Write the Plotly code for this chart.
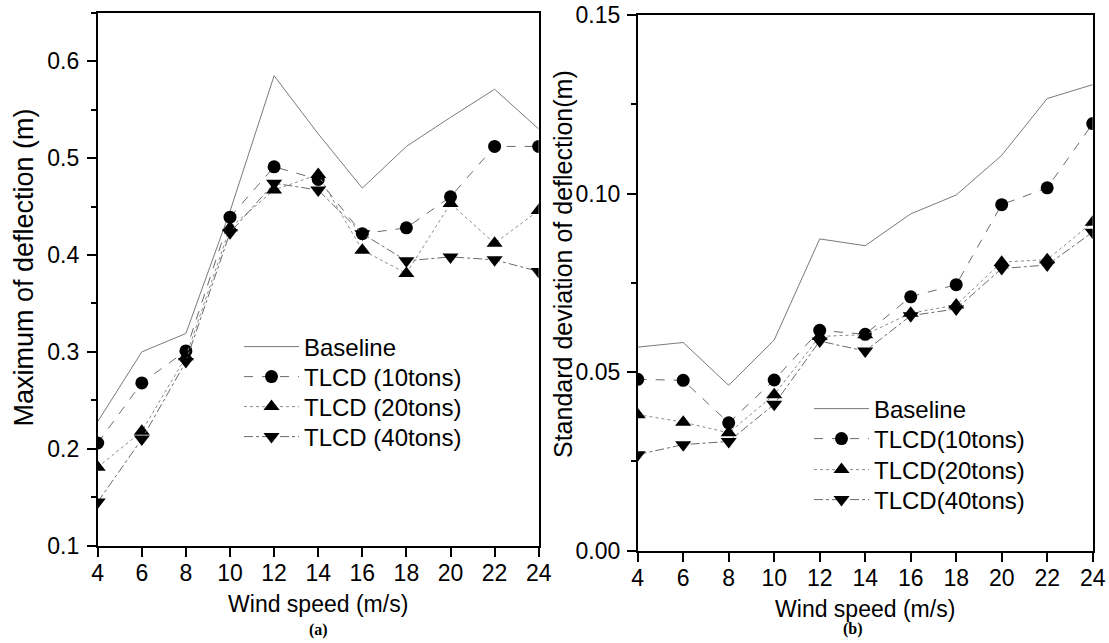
import plotly.graph_objects as go

W, H = 1109, 643

wind = [4, 6, 8, 10, 12, 14, 16, 18, 20, 22, 24]

# (a) Maximum of deflection (m)
a_baseline = [0.228, 0.300, 0.319, 0.445, 0.585, 0.525, 0.469, 0.512, 0.542, 0.571, 0.530]
a_tlcd10 = [0.206, 0.268, 0.301, 0.439, 0.491, 0.478, 0.422, 0.428, 0.460, 0.512, 0.512]
a_tlcd20 = [0.181, 0.218, 0.295, 0.428, 0.467, 0.483, 0.405, 0.381, 0.453, 0.412, 0.446]
a_tlcd40 = [0.145, 0.210, 0.290, 0.423, 0.474, 0.467, 0.422, 0.394, 0.398, 0.395, 0.383]

# (b) Standard deviation of deflection (m)
b_baseline = [0.0570, 0.0583, 0.0463, 0.0590, 0.0873, 0.0854, 0.0943, 0.0996, 0.1107, 0.1266, 0.1305]
b_tlcd10 = [0.0480, 0.0477, 0.0358, 0.0478, 0.0617, 0.0606, 0.0711, 0.0745, 0.0969, 0.1016, 0.1196]
b_tlcd20 = [0.0381, 0.0360, 0.0330, 0.0437, 0.0600, 0.0605, 0.0665, 0.0688, 0.0808, 0.0815, 0.0920]
b_tlcd40 = [0.0269, 0.0297, 0.0306, 0.0410, 0.0587, 0.0559, 0.0658, 0.0677, 0.0790, 0.0800, 0.0892]

names_a = ["Baseline", "TLCD (10tons)", "TLCD (20tons)", "TLCD (40tons)"]
names_b = ["Baseline", "TLCD(10tons)", "TLCD(20tons)", "TLCD(40tons)"]

x_title = "Wind speed (m/s)"
y_title_a = "Maximum of deflection (m)"
y_title_b = "Standard deviation of deflection(m)"

FONT = "Liberation Sans, Arial, sans-serif"
SERIF = "Liberation Serif, Times New Roman, serif"
styles = [
    dict(mode="lines", line=dict(color="#7a7a7a", width=1, dash="solid"), marker=None),
    dict(mode="lines+markers", line=dict(color="#6a6a6a", width=1, dash="dash"),
         marker=dict(symbol="circle", size=13, color="black")),
    dict(mode="lines+markers", line=dict(color="#8a8a8a", width=1, dash="dot"),
         marker=dict(symbol="triangle-up", size=14, color="black")),
    dict(mode="lines+markers", line=dict(color="#6a6a6a", width=1, dash="dashdot"),
         marker=dict(symbol="triangle-down", size=14, color="black")),
]

def px_x(p):
    return p / W

def px_y(p):
    return 1 - p / H

# legend entry positions (pixels): (legend box left x, entry centre y)
legend_pos_a = [(239, 347), (239, 377), (239, 407), (239, 437)]
legend_pos_b = [(809, 409), (809, 439), (809, 470), (809, 500)]

fig = go.Figure()
legend_layout = {}
lid = 1
for panel, (series, names, positions, xa, ya) in enumerate([
        ([a_baseline, a_tlcd10, a_tlcd20, a_tlcd40], names_a, legend_pos_a, "x", "y"),
        ([b_baseline, b_tlcd10, b_tlcd20, b_tlcd40], names_b, legend_pos_b, "x2", "y2")]):
    for i, (ys, nm) in enumerate(zip(series, names)):
        st = styles[i]
        lname = "legend" if lid == 1 else "legend%d" % lid
        kw = dict(x=wind, y=ys, name=nm, mode=st["mode"], line=st["line"],
                  xaxis=xa, yaxis=ya, legend=lname, showlegend=True)
        if st["marker"]:
            kw["marker"] = st["marker"]
        fig.add_trace(go.Scatter(**kw))
        px, py = positions[i]
        legend_layout[lname] = dict(
            x=px_x(px), y=px_y(py), xanchor="left", yanchor="middle",
            bgcolor="rgba(0,0,0,0)", borderwidth=0, itemwidth=55,
            font=dict(family=FONT, size=24, color="black"))
        lid += 1

axis_common = dict(
    showline=True, linecolor="black", linewidth=1.6, mirror=True,
    ticks="outside", ticklen=9, tickwidth=1.6, tickcolor="black",
    showgrid=False, zeroline=False, automargin=False,
    tickfont=dict(family=FONT, size=23, color="black"),
)

fig.update_layout(
    width=W, height=H,
    margin=dict(l=0, r=0, t=0, b=0, autoexpand=False),
    showlegend=True,
    paper_bgcolor="white", plot_bgcolor="white",
    font=dict(family=FONT, size=24, color="black"),
    xaxis=dict(domain=[px_x(97.7), px_x(538.7)], range=[4, 24], tickvals=wind,
               anchor="y", ticklabelstandoff=-3,
               title=dict(text=x_title, font=dict(family=FONT, size=23), standoff=11),
               **axis_common),
    yaxis=dict(domain=[px_y(545.7), px_y(12.7)], range=[0.1, 0.65], dtick=0.1, tick0=0.1,
               tickformat=".1f", anchor="x", ticklabelstandoff=3,
               minor=dict(dtick=0.05, tick0=0.1, ticks="outside", ticklen=5, tickwidth=1.6, tickcolor="black"),
               **axis_common),
    xaxis2=dict(domain=[px_x(637.7), px_x(1092.7)], range=[4, 24], tickvals=wind,
                anchor="y2", ticklabelstandoff=-3,
                title=dict(text=x_title, font=dict(family=FONT, size=23), standoff=11),
                **axis_common),
    yaxis2=dict(domain=[px_y(550.7), px_y(15)], range=[0, 0.15], dtick=0.05, tick0=0,
                tickformat=".2f", anchor="x2", ticklabelstandoff=2,
                minor=dict(dtick=0.025, tick0=0, ticks="outside", ticklen=5, tickwidth=1.6, tickcolor="black"),
                **axis_common),
    annotations=[
        dict(text=y_title_a, textangle=-90, x=px_x(23.5), y=px_y(268), xref="paper", yref="paper",
             xanchor="center", yanchor="middle", showarrow=False,
             font=dict(family=FONT, size=27)),
        dict(text=y_title_b, textangle=-90, x=px_x(563), y=px_y(264), xref="paper", yref="paper",
             xanchor="center", yanchor="middle", showarrow=False,
             font=dict(family=FONT, size=25)),
        dict(text="<b>(a)</b>", x=px_x(318), y=px_y(630), xref="paper", yref="paper",
             xanchor="center", yanchor="middle",
             showarrow=False, font=dict(family=SERIF, size=16)),
        dict(text="<b>(b)</b>", x=px_x(853), y=px_y(629), xref="paper", yref="paper",
             xanchor="center", yanchor="middle",
             showarrow=False, font=dict(family=SERIF, size=16)),
    ],
    **legend_layout,
)

fig.write_html("out.html")
